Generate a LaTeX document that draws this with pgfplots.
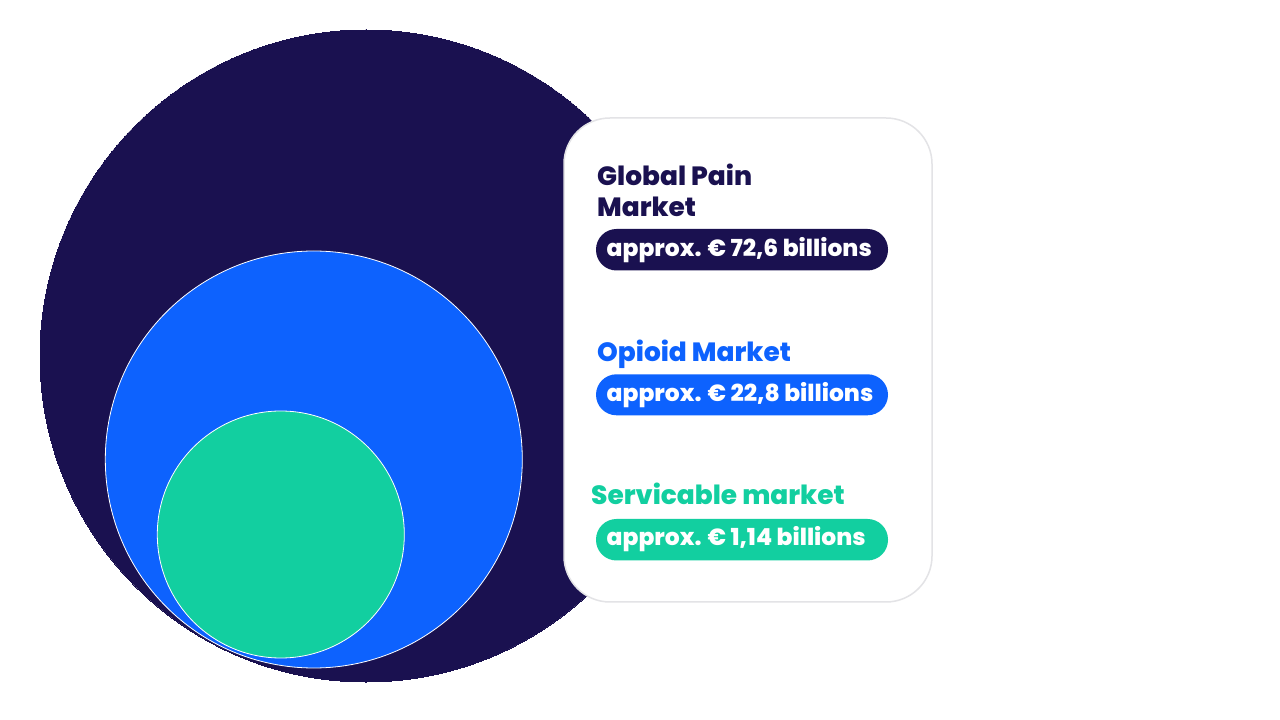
\documentclass[border=0pt]{standalone}
\usepackage{pgfplots}
\pgfplotsset{compat=1.18}
\usepackage{fontspec}
\setmainfont{Poppins}[BoldFont={Poppins ExtraBold}]
\definecolor{navy}{HTML}{1A1150}
\definecolor{mblue}{HTML}{0D62FE}
\definecolor{mgreen}{HTML}{12CFA0}
\definecolor{boxline}{HTML}{E3E3E6}
\begin{document}
\begin{tikzpicture}
\begin{axis}[
  scale only axis, width=1280bp, height=720bp,
  xmin=0, xmax=1280, ymin=0, ymax=720, y dir=reverse,
  hide axis, clip=false,
]
\path[fill=white] (axis cs:0,0) rectangle (axis cs:1280,720);
% circles: centre (px) with radius (px)
\addplot[only marks, mark=*, mark size=326bp, mark options={fill=navy, draw=navy, line width=0pt}] coordinates {(366,356)};
\addplot[only marks, mark=*, mark size=208.5bp, mark options={fill=mblue, draw=white, line width=0.8bp}] coordinates {(313.8,459.5)};
\addplot[only marks, mark=*, mark size=123.5bp, mark options={fill=mgreen, draw=white, line width=0.8bp}] coordinates {(280.8,534.5)};
\coordinate (B1) at (axis cs:564,118);
\coordinate (B2) at (axis cs:932,602);
\coordinate (T1) at (axis cs:597,186);
\coordinate (T2) at (axis cs:597,217);
\coordinate (P1a) at (axis cs:596,229);
\coordinate (P1b) at (axis cs:888,270.5);
\coordinate (V1) at (axis cs:606.5,257);
\coordinate (T3) at (axis cs:597,362);
\coordinate (P2a) at (axis cs:596,374.3);
\coordinate (P2b) at (axis cs:888,415.3);
\coordinate (V2) at (axis cs:606.5,402);
\coordinate (T4) at (axis cs:591,505);
\coordinate (P3a) at (axis cs:596,519);
\coordinate (P3b) at (axis cs:888,560.5);
\coordinate (V3) at (axis cs:606.5,546);
\end{axis}
% card
\draw[fill=white, draw=boxline, line width=1.5bp, rounded corners=46bp] (B1) rectangle (B2);
\node[anchor=base west, inner sep=0pt, text=navy, font=\fontsize{26.5}{32}\selectfont\bfseries] at (T1) {Global Pain};
\node[anchor=base west, inner sep=0pt, text=navy, font=\fontsize{26.5}{32}\selectfont\bfseries] at (T2) {Market};
\fill[navy, rounded corners=20.5bp] (P1a) rectangle (P1b);
\node[anchor=base west, inner sep=0pt, text=white, font=\fontsize{23.5}{26}\selectfont\bfseries] at (V1) {approx. € 72,6 billions};
\node[anchor=base west, inner sep=0pt, text=mblue, font=\fontsize{26.5}{32}\selectfont\bfseries] at (T3) {Opioid Market};
\fill[mblue, rounded corners=20.5bp] (P2a) rectangle (P2b);
\node[anchor=base west, inner sep=0pt, text=white, font=\fontsize{23.5}{26}\selectfont\bfseries] at (V2) {approx. € 22,8 billions};
\node[anchor=base west, inner sep=0pt, text=mgreen, font=\fontsize{26.5}{32}\selectfont\bfseries] at (T4) {Servicable market};
\fill[mgreen, rounded corners=20.5bp] (P3a) rectangle (P3b);
\node[anchor=base west, inner sep=0pt, text=white, font=\fontsize{23.5}{26}\selectfont\bfseries] at (V3) {approx. € 1,14 billions};
\end{tikzpicture}
\end{document}
